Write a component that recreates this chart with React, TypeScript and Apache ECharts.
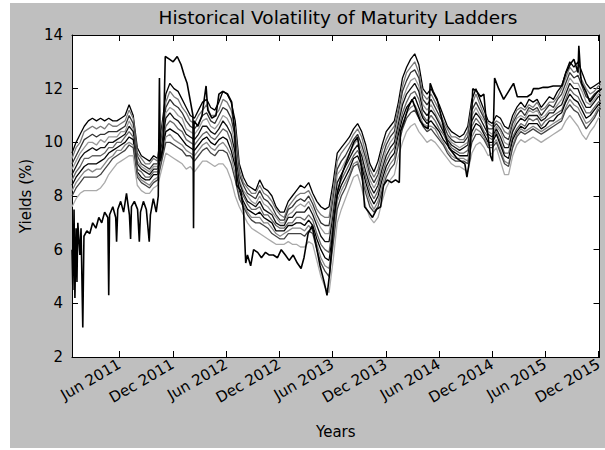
import React, { useEffect, useRef } from 'react';
import * as echarts from 'echarts';

const FONT = 'DejaVu Sans';
const START = Date.UTC(2010, 11, 20);
const DAY = 86400000;
const GRID_STEP_DAYS = 14;
const SPAN_DAYS = 1810;

const xTickDates = ['2011-06-01', '2011-12-01', '2012-06-01', '2012-12-01', '2013-06-01', '2013-12-01', '2014-06-01', '2014-12-01', '2015-06-01', '2015-12-01'];
const xTickLabels = ['Jun 2011', 'Dec 2011', 'Jun 2012', 'Dec 2012', 'Jun 2013', 'Dec 2013', 'Jun 2014', 'Dec 2014', 'Jun 2015', 'Dec 2015'];

// Ladder rungs sampled every 14 days from 2010-12-20 (top rung first)
const ladder1 = [
  9.6, 10.0, 10.3, 10.6, 10.8, 10.9, 10.8, 10.9, 10.8, 10.9,
  10.8, 10.8, 10.9, 11.0, 11.4, 11.0, 9.8, 9.5, 9.4, 9.3,
  9.5, 9.4, 10.6, 11.8, 12.2, 12.0, 11.9, 11.6, 11.3, 11.0,
  10.9, 11.2, 11.5, 11.6, 11.3, 11.2, 11.5, 11.9, 11.8, 11.5,
  10.8, 9.2, 8.7, 8.4, 8.3, 8.2, 8.6, 8.3, 8.2, 8.0,
  7.6, 7.4, 7.4, 7.8, 8.0, 8.2, 8.4, 8.3, 8.5, 8.1,
  7.8, 7.6, 7.5, 7.6, 8.5, 9.6, 9.8, 10.0, 10.2, 10.5,
  10.7, 10.4, 9.9, 9.2, 8.9, 9.3, 9.9, 10.4, 10.6, 10.8,
  11.5, 12.4, 12.8, 13.1, 13.3, 12.9, 12.0, 11.8, 12.0, 11.7,
  11.4, 11.0, 10.6, 10.4, 10.3, 10.2, 10.3, 10.6, 11.6, 12.0,
  11.6, 11.2, 10.8, 10.7, 11.0, 10.9, 10.6, 10.5, 11.0, 11.3,
  11.5, 11.3, 11.6, 11.5, 11.6, 11.3, 11.5, 11.7, 11.6, 11.9,
  12.1, 12.6, 13.0, 12.8, 13.0, 12.6, 12.2, 12.0, 12.1, 12.2,
  12.3,
];
const ladder1b = [
  9.4, 9.8, 10.0, 10.4, 10.5, 10.6, 10.5, 10.6, 10.5, 10.7,
  10.6, 10.6, 10.7, 10.8, 11.2, 10.9, 9.6, 9.4, 9.2, 9.2,
  9.4, 9.3, 10.4, 11.5, 11.9, 11.7, 11.6, 11.3, 11.1, 10.8,
  10.7, 11.0, 11.2, 11.4, 11.0, 11.0, 11.2, 11.6, 11.5, 11.2,
  10.5, 9.0, 8.5, 8.3, 8.1, 8.1, 8.4, 8.1, 8.0, 7.8,
  7.5, 7.3, 7.2, 7.6, 7.8, 8.0, 8.1, 8.1, 8.2, 7.9,
  7.5, 7.3, 7.2, 7.2, 8.2, 9.3, 9.6, 9.8, 10.0, 10.3,
  10.5, 10.2, 9.6, 9.0, 8.7, 9.0, 9.7, 10.1, 10.4, 10.6,
  11.3, 12.1, 12.6, 12.8, 13.0, 12.6, 11.8, 11.6, 11.8, 11.5,
  11.2, 10.8, 10.5, 10.2, 10.2, 10.1, 10.1, 10.4, 11.4, 11.8,
  11.4, 11.0, 10.7, 10.6, 10.8, 10.7, 10.4, 10.3, 10.8, 11.2,
  11.3, 11.2, 11.4, 11.3, 11.5, 11.2, 11.3, 11.5, 11.5, 11.7,
  12.0, 12.4, 12.8, 12.6, 12.7, 12.3, 12.0, 11.8, 11.9, 12.1,
  12.2,
];
const ladder2 = [
  9.2, 9.5, 9.8, 10.1, 10.2, 10.3, 10.2, 10.3, 10.3, 10.4,
  10.4, 10.4, 10.5, 10.6, 11.0, 10.7, 9.5, 9.2, 9.1, 9.0,
  9.2, 9.2, 10.2, 11.3, 11.6, 11.4, 11.3, 11.1, 10.8, 10.6,
  10.5, 10.7, 11.0, 11.1, 10.8, 10.7, 11.0, 11.3, 11.2, 10.9,
  10.2, 8.8, 8.4, 8.1, 8.0, 7.9, 8.2, 7.9, 7.8, 7.6,
  7.3, 7.1, 7.1, 7.5, 7.6, 7.8, 7.9, 7.8, 8.0, 7.7,
  7.3, 7.0, 6.9, 6.9, 7.9, 9.0, 9.3, 9.5, 9.8, 10.1,
  10.3, 9.9, 9.4, 8.8, 8.5, 8.8, 9.4, 9.9, 10.2, 10.4,
  11.1, 11.9, 12.3, 12.6, 12.7, 12.4, 11.6, 11.4, 11.6, 11.3,
  11.0, 10.7, 10.3, 10.1, 10.0, 10.0, 10.0, 10.2, 11.2, 11.5,
  11.2, 10.9, 10.5, 10.5, 10.7, 10.5, 10.2, 10.1, 10.7, 11.0,
  11.2, 11.0, 11.3, 11.2, 11.3, 11.0, 11.2, 11.4, 11.3, 11.6,
  11.8, 12.2, 12.6, 12.4, 12.5, 12.1, 11.7, 11.6, 11.8, 11.9,
  12.0,
];
const ladder2b = [
  9.0, 9.3, 9.6, 9.8, 10.0, 10.0, 9.9, 10.1, 10.0, 10.2,
  10.2, 10.2, 10.4, 10.4, 10.8, 10.5, 9.3, 9.1, 9.0, 8.9,
  9.1, 9.1, 10.0, 11.1, 11.3, 11.2, 11.0, 10.9, 10.5, 10.4,
  10.3, 10.5, 10.8, 10.9, 10.6, 10.5, 10.7, 11.0, 10.9, 10.6,
  9.9, 8.6, 8.2, 8.0, 7.8, 7.7, 8.0, 7.7, 7.6, 7.4,
  7.2, 7.0, 7.0, 7.3, 7.4, 7.6, 7.7, 7.6, 7.8, 7.5,
  7.1, 6.8, 6.6, 6.6, 7.6, 8.8, 9.0, 9.3, 9.6, 9.9,
  10.1, 9.7, 9.2, 8.6, 8.3, 8.6, 9.2, 9.7, 10.0, 10.2,
  10.9, 11.6, 12.0, 12.3, 12.4, 12.1, 11.4, 11.2, 11.4, 11.1,
  10.8, 10.5, 10.2, 10.0, 9.9, 9.8, 9.9, 10.0, 11.0, 11.3,
  11.0, 10.8, 10.4, 10.3, 10.6, 10.4, 10.0, 9.9, 10.5, 10.9,
  11.0, 10.9, 11.2, 11.1, 11.2, 10.9, 11.0, 11.2, 11.2, 11.4,
  11.6, 12.0, 12.4, 12.2, 12.2, 11.9, 11.5, 11.4, 11.6, 11.8,
  11.9,
];
const ladder3 = [
  8.8, 9.1, 9.4, 9.6, 9.7, 9.8, 9.7, 9.8, 9.8, 10.0,
  10.0, 10.1, 10.2, 10.3, 10.6, 10.4, 9.2, 9.0, 8.9, 8.8,
  9.0, 9.0, 9.9, 10.9, 11.1, 10.9, 10.8, 10.6, 10.3, 10.2,
  10.1, 10.3, 10.6, 10.6, 10.4, 10.3, 10.5, 10.8, 10.6, 10.3,
  9.6, 8.5, 8.1, 7.8, 7.7, 7.6, 7.8, 7.5, 7.4, 7.3,
  7.0, 6.9, 6.9, 7.2, 7.2, 7.4, 7.4, 7.4, 7.6, 7.3,
  6.9, 6.5, 6.3, 6.3, 7.3, 8.5, 8.8, 9.1, 9.4, 9.7,
  9.9, 9.5, 8.9, 8.4, 8.1, 8.4, 9.0, 9.5, 9.8, 10.0,
  10.7, 11.4, 11.8, 12.0, 12.2, 11.9, 11.2, 11.0, 11.2, 11.0,
  10.7, 10.4, 10.1, 9.9, 9.8, 9.7, 9.8, 9.9, 10.8, 11.1,
  10.9, 10.6, 10.3, 10.2, 10.5, 10.2, 9.8, 9.8, 10.4, 10.7,
  10.9, 10.8, 11.0, 11.0, 11.0, 10.8, 10.9, 11.1, 11.1, 11.3,
  11.4, 11.8, 12.2, 12.0, 12.0, 11.6, 11.3, 11.3, 11.5, 11.7,
  11.8,
];
const ladder3b = [
  8.6, 8.9, 9.1, 9.4, 9.4, 9.5, 9.5, 9.5, 9.6, 9.8,
  9.8, 10.0, 10.0, 10.2, 10.4, 10.2, 9.0, 8.9, 8.7, 8.7,
  8.9, 8.9, 9.7, 10.6, 10.8, 10.7, 10.5, 10.4, 10.1, 10.0,
  9.9, 10.1, 10.3, 10.4, 10.2, 10.1, 10.3, 10.5, 10.4, 10.0,
  9.3, 8.3, 8.0, 7.7, 7.5, 7.5, 7.6, 7.3, 7.3, 7.1,
  6.9, 6.8, 6.8, 7.0, 7.0, 7.2, 7.2, 7.1, 7.3, 7.1,
  6.6, 6.2, 6.0, 5.9, 7.0, 8.2, 8.6, 8.9, 9.2, 9.5,
  9.7, 9.3, 8.7, 8.2, 7.9, 8.2, 8.8, 9.3, 9.6, 9.8,
  10.5, 11.1, 11.5, 11.8, 11.9, 11.6, 11.0, 10.8, 11.0, 10.8,
  10.5, 10.3, 10.0, 9.8, 9.7, 9.6, 9.6, 9.7, 10.6, 10.9,
  10.7, 10.4, 10.2, 10.1, 10.4, 10.0, 9.6, 9.6, 10.2, 10.5,
  10.7, 10.6, 10.9, 10.8, 10.9, 10.6, 10.8, 10.9, 11.0, 11.1,
  11.2, 11.6, 12.0, 11.8, 11.7, 11.4, 11.1, 11.1, 11.3, 11.5,
  11.6,
];
const ladder4 = [
  8.4, 8.7, 8.9, 9.1, 9.2, 9.2, 9.2, 9.3, 9.4, 9.6,
  9.7, 9.8, 9.9, 10.0, 10.2, 10.1, 8.9, 8.7, 8.6, 8.6,
  8.8, 8.8, 9.6, 10.4, 10.5, 10.4, 10.3, 10.1, 9.9, 9.8,
  9.7, 9.9, 10.1, 10.2, 10.0, 9.9, 10.1, 10.2, 10.1, 9.7,
  9.1, 8.2, 7.8, 7.5, 7.4, 7.3, 7.4, 7.2, 7.1, 7.0,
  6.7, 6.7, 6.7, 6.9, 6.9, 7.0, 7.0, 6.9, 7.1, 6.9,
  6.4, 6.0, 5.7, 5.6, 6.7, 8.0, 8.4, 8.7, 9.0, 9.4,
  9.5, 9.1, 8.5, 8.0, 7.7, 8.0, 8.6, 9.1, 9.4, 9.6,
  10.3, 10.9, 11.3, 11.5, 11.7, 11.3, 10.9, 10.7, 10.8, 10.6,
  10.4, 10.1, 9.9, 9.7, 9.6, 9.5, 9.5, 9.5, 10.4, 10.7,
  10.6, 10.3, 10.0, 10.0, 10.3, 9.9, 9.5, 9.4, 10.1, 10.4,
  10.6, 10.5, 10.7, 10.7, 10.7, 10.5, 10.6, 10.8, 10.8, 11.0,
  11.1, 11.5, 11.8, 11.6, 11.5, 11.2, 10.9, 11.0, 11.2, 11.4,
  11.5,
];
const ladder4b = [
  8.2, 8.5, 8.7, 8.9, 9.0, 8.9, 9.0, 9.0, 9.2, 9.4,
  9.5, 9.7, 9.7, 9.9, 10.0, 9.9, 8.8, 8.6, 8.5, 8.4,
  8.6, 8.7, 9.4, 10.2, 10.3, 10.1, 10.0, 9.9, 9.7, 9.6,
  9.5, 9.7, 9.9, 10.0, 9.8, 9.7, 9.9, 10.0, 9.8, 9.5,
  8.8, 8.0, 7.7, 7.4, 7.2, 7.2, 7.2, 7.0, 7.0, 6.8,
  6.6, 6.5, 6.6, 6.7, 6.8, 6.8, 6.8, 6.7, 6.9, 6.7,
  6.2, 5.7, 5.4, 5.3, 6.4, 7.8, 8.2, 8.5, 8.8, 9.2,
  9.3, 8.9, 8.3, 7.8, 7.5, 7.8, 8.4, 8.9, 9.2, 9.4,
  10.1, 10.7, 11.1, 11.3, 11.4, 11.1, 10.7, 10.6, 10.6, 10.5,
  10.2, 10.0, 9.7, 9.5, 9.4, 9.4, 9.4, 9.3, 10.2, 10.5,
  10.4, 10.2, 9.9, 9.9, 10.1, 9.7, 9.3, 9.2, 9.9, 10.3,
  10.5, 10.4, 10.5, 10.6, 10.5, 10.4, 10.5, 10.6, 10.7, 10.8,
  10.9, 11.3, 11.6, 11.4, 11.3, 11.0, 10.7, 10.8, 11.0, 11.3,
  11.4,
];
const ladder5 = [
  8.0, 8.3, 8.5, 8.7, 8.7, 8.7, 8.7, 8.8, 9.0, 9.2,
  9.4, 9.5, 9.6, 9.7, 9.9, 9.8, 8.7, 8.5, 8.4, 8.3,
  8.5, 8.6, 9.3, 10.0, 10.0, 9.9, 9.8, 9.7, 9.5, 9.5,
  9.3, 9.5, 9.7, 9.8, 9.6, 9.5, 9.7, 9.7, 9.6, 9.2,
  8.6, 7.9, 7.6, 7.3, 7.1, 7.0, 7.0, 6.9, 6.8, 6.6,
  6.5, 6.4, 6.4, 6.6, 6.6, 6.6, 6.6, 6.5, 6.7, 6.6,
  6.0, 5.5, 5.2, 5.0, 6.2, 7.5, 8.0, 8.3, 8.7, 9.1,
  9.2, 8.7, 8.1, 7.6, 7.4, 7.6, 8.2, 8.7, 9.0, 9.2,
  9.9, 10.5, 10.9, 11.1, 11.2, 10.9, 10.6, 10.4, 10.5, 10.3,
  10.1, 9.9, 9.6, 9.4, 9.3, 9.3, 9.3, 9.2, 10.0, 10.3,
  10.3, 10.1, 9.8, 9.8, 10.0, 9.6, 9.2, 9.1, 9.8, 10.2,
  10.4, 10.3, 10.4, 10.5, 10.4, 10.3, 10.4, 10.5, 10.6, 10.7,
  10.8, 11.2, 11.4, 11.2, 11.1, 10.8, 10.5, 10.7, 10.9, 11.2,
  11.3,
];
const ladder6 = [
  7.6, 7.9, 8.1, 8.2, 8.2, 8.2, 8.2, 8.3, 8.5, 8.8,
  9.0, 9.2, 9.3, 9.4, 9.5, 9.5, 8.4, 8.2, 8.1, 8.1,
  8.3, 8.4, 9.0, 9.6, 9.5, 9.4, 9.3, 9.2, 9.0, 9.1,
  8.9, 9.1, 9.3, 9.3, 9.2, 9.1, 9.2, 9.2, 9.0, 8.6,
  8.0, 7.6, 7.3, 7.0, 6.8, 6.7, 6.6, 6.5, 6.4, 6.3,
  6.2, 6.2, 6.2, 6.3, 6.2, 6.2, 6.1, 6.1, 6.3, 6.2,
  5.6, 5.0, 4.6, 4.4, 5.6, 7.0, 7.5, 7.9, 8.3, 8.7,
  8.8, 8.3, 7.6, 7.2, 7.0, 7.2, 7.8, 8.3, 8.6, 8.8,
  9.5, 10.0, 10.4, 10.6, 10.7, 10.4, 10.2, 10.0, 10.1, 10.0,
  9.8, 9.6, 9.4, 9.2, 9.1, 9.1, 9.0, 8.9, 9.6, 9.9,
  10.0, 9.8, 9.5, 9.6, 9.8, 9.3, 8.8, 8.8, 9.5, 9.9,
  10.1, 10.0, 10.1, 10.2, 10.1, 10.0, 10.1, 10.2, 10.3, 10.4,
  10.5, 10.8, 11.0, 10.8, 10.6, 10.3, 10.1, 10.4, 10.6, 10.9,
  11.0,
];

// Shortest rung: [days since 2010-12-20, yield]
const shortRung: [number, number][] = [
  [0, 6.0], [3, 4.5], [7, 7.5], [10, 4.2], [14, 6.8], [17, 4.8], [20, 7.0], [27, 5.8], [31, 6.8], [37, 3.1],
  [41, 6.5], [51, 6.7], [61, 6.6], [71, 7.0], [82, 6.8], [92, 7.2], [102, 7.0], [112, 7.4], [123, 7.2], [126, 4.3],
  [129, 7.3], [140, 7.6], [150, 7.2], [153, 6.3], [157, 7.5], [167, 7.8], [177, 7.4], [187, 8.1], [197, 7.3], [201, 6.4],
  [204, 7.6], [214, 7.8], [225, 7.5], [231, 6.3], [235, 7.4], [245, 7.8], [255, 7.5], [265, 6.3], [269, 7.3], [279, 7.9],
  [289, 7.4], [296, 8.0], [300, 12.4], [303, 9.3], [313, 9.8], [320, 13.2], [334, 13.1], [347, 13.0], [361, 13.2], [374, 12.9],
  [385, 12.5], [395, 12.2], [405, 11.6], [415, 11.0], [417, 6.8], [419, 10.8], [432, 10.6], [446, 11.0], [460, 12.1], [466, 11.2],
  [480, 10.9], [494, 11.0], [504, 11.8], [517, 11.9], [534, 11.8], [548, 11.5], [558, 10.4], [565, 8.4], [579, 8.2], [589, 7.4],
  [596, 5.5], [602, 5.8], [613, 5.4], [623, 6.0], [637, 5.9], [650, 5.7], [664, 5.9], [677, 5.8], [691, 5.8], [705, 5.7],
  [718, 6.0], [732, 5.8], [745, 5.6], [759, 5.8], [773, 5.5], [786, 5.3], [796, 5.7], [810, 6.6], [824, 6.9], [837, 6.2],
  [851, 5.4], [865, 4.8], [875, 4.3], [885, 5.2], [899, 7.2], [912, 8.2], [926, 8.8], [939, 9.2], [953, 9.6], [967, 10.0],
  [980, 10.2], [994, 9.0], [1004, 7.6], [1018, 7.4], [1031, 7.2], [1045, 7.5], [1059, 7.6], [1069, 8.4], [1082, 8.6], [1096, 8.5],
  [1110, 8.6], [1123, 8.5], [1127, 10.4], [1140, 10.8], [1154, 11.3], [1167, 11.6], [1181, 11.2], [1195, 10.8], [1208, 10.6], [1222, 10.5],
  [1229, 12.2], [1239, 11.9], [1253, 11.6], [1266, 11.0], [1280, 10.3], [1293, 9.8], [1307, 9.6], [1321, 9.4], [1334, 9.3], [1348, 9.2],
  [1355, 8.7], [1365, 9.4], [1375, 12.0], [1389, 11.9], [1402, 11.7], [1413, 11.8], [1423, 10.6], [1436, 9.5], [1443, 9.3], [1450, 12.4],
  [1464, 12.0], [1481, 11.6], [1498, 11.9], [1515, 12.2], [1528, 11.7], [1545, 11.7], [1562, 11.7], [1576, 11.8], [1583, 12.0], [1600, 12.0],
  [1617, 12.05], [1634, 12.05], [1651, 12.1], [1668, 12.1], [1681, 12.1], [1695, 12.6], [1709, 12.9], [1722, 13.1], [1736, 12.6], [1739, 13.6],
  [1746, 12.4], [1749, 12.2], [1763, 11.9], [1777, 11.5], [1790, 11.7], [1804, 11.9], [1818, 12.0],
];

const ladders = [ladder1, ladder1b, ladder2, ladder2b, ladder3, ladder3b, ladder4, ladder4b, ladder5, ladder6];
const ladderColors = ['#000000', '#7a7a7a', '#333333', '#9a9a9a', '#111111', '#666666', '#000000', '#888888', '#444444', '#aaaaaa'];

export default function App() {
  const ref = useRef<HTMLDivElement>(null);
  useEffect(() => {
    if (!ref.current) return;
    const chart = echarts.init(ref.current, null, { renderer: 'svg' });
    const toTs = (d: number) => START + d * DAY;
    const tickTs = xTickDates.map((s) => Date.parse(s + 'T00:00:00Z'));
    const labelFor = (v: number) => {
      const idx = tickTs.findIndex((t) => Math.abs(t - v) < DAY);
      return idx >= 0 ? xTickLabels[idx] : '';
    };
    const series: any[] = ladders.map((vals, k) => ({
      type: 'line',
      name: 'rung' + (k + 2),
      data: vals.map((v, i) => [toTs(i * GRID_STEP_DAYS), v]),
      showSymbol: false,
      symbol: 'none',
      lineStyle: { color: ladderColors[k], width: 1.3 },
      silent: true,
    }));
    series.push({
      type: 'line',
      name: 'rung1',
      data: shortRung.map(([d, v]) => [toTs(d), v]),
      showSymbol: false,
      symbol: 'none',
      lineStyle: { color: '#000', width: 1.6 },
      silent: true,
    });
    const tickCommon = { show: true, inside: true, length: 6, lineStyle: { color: '#000', width: 1 } };
    const lineCommon = { show: true, onZero: false, lineStyle: { color: '#000', width: 1 } };
    chart.setOption({
      animation: false,
      backgroundColor: '#bfbfbf',
      textStyle: { fontFamily: FONT },
      title: {
        text: 'Historical Volatility of Maturity Ladders',
        left: 328,
        top: 14,
        padding: 0,
        textAlign: 'center',
        textVerticalAlign: 'middle',
        textStyle: { fontSize: 18.5, fontWeight: 'normal', color: '#000', fontFamily: FONT },
      },
      grid: { left: 62, top: 32, right: 1, bottom: 91, show: true, backgroundColor: '#ffffff', borderWidth: 0 },
      xAxis: [
        {
          type: 'value',
          position: 'bottom',
          min: START,
          max: START + SPAN_DAYS * DAY,
          axisLine: lineCommon,
          axisTick: { ...tickCommon, customValues: tickTs },
          axisLabel: {
            customValues: tickTs,
            rotate: 30,
            fontSize: 15,
            color: '#000',
            fontFamily: FONT,
            margin: 6,
            formatter: (v: number) => labelFor(v),
          },
          splitLine: { show: false },
          name: 'Years',
          nameLocation: 'middle',
          nameGap: 67,
          nameTextStyle: { fontSize: 15, color: '#000', fontFamily: FONT },
        },
        {
          type: 'value',
          position: 'top',
          min: START,
          max: START + SPAN_DAYS * DAY,
          axisLine: lineCommon,
          axisTick: { ...tickCommon, customValues: tickTs },
          axisLabel: { show: false },
          splitLine: { show: false },
        },
      ],
      yAxis: [
        {
          type: 'value',
          position: 'left',
          min: 2,
          max: 14,
          interval: 2,
          axisLine: lineCommon,
          axisTick: tickCommon,
          axisLabel: { fontSize: 15, color: '#000', fontFamily: FONT, margin: 9 },
          splitLine: { show: false },
          name: 'Yields (%)',
          nameLocation: 'middle',
          nameGap: 38,
          nameRotate: 90,
          nameTextStyle: { fontSize: 15, color: '#000', fontFamily: FONT },
        },
        {
          type: 'value',
          position: 'right',
          min: 2,
          max: 14,
          interval: 2,
          axisLine: lineCommon,
          axisTick: tickCommon,
          axisLabel: { show: false },
          splitLine: { show: false },
        },
      ],
      series,
    });
    return () => chart.dispose();
  }, []);
  return <div ref={ref} style={{ position: 'absolute', left: 10, top: 3, width: 595, height: 445 }} />;
}
